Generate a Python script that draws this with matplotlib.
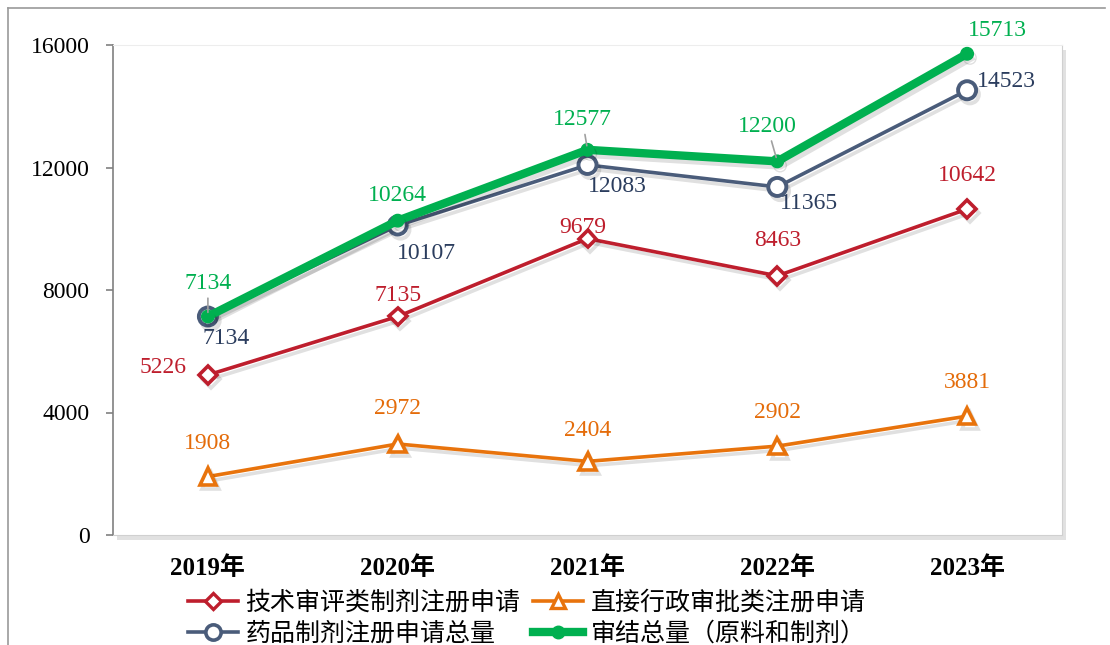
import matplotlib.pyplot as plt
import matplotlib.patheffects as pe
from matplotlib.lines import Line2D
from matplotlib.patches import Rectangle

plt.rcParams['font.family'] = ['Liberation Serif', 'Noto Sans CJK SC']

years = ['2019年', '2020年', '2021年', '2022年', '2023年']
tech_review = [5226, 7135, 9679, 8463, 10642]
direct_admin = [1908, 2972, 2404, 2902, 3881]
total_apps = [7134, 10107, 12083, 11365, 14523]
total_done = [7134, 10264, 12577, 12200, 15713]

names = ['技术审评类制剂注册申请', '直接行政审批类注册申请', '药品制剂注册申请总量', '审结总量（原料和制剂）']

# label offsets in pixels (dx, dy) from each point
off_red = [(-45, 7), (0, 21), (-5, 11), (0, 35), (0, 34)]
off_orange = [(0, 33), (0, 35), (0, 31), (0, 34), (0, 34)]
off_blue = [(18, -22), (29, -28), (30, -22), (32, -17), (39, 9)]
off_green = [(0, 33), (0, 25), (-5, 30), (-10, 35), (30, 23)]
leader_green = [True, False, True, True, False]

fig = plt.figure(figsize=(11.1, 6.45), dpi=100)
ax = fig.add_axes([113 / 1110, 1 - 535 / 645, 949 / 1110, 490 / 645])

# outer frame (left + top)
fig.add_artist(Line2D([8 / 1110, 8 / 1110], [0, 1 - 8 / 645], color='#9A9A9A', lw=1.2))
fig.add_artist(Line2D([8 / 1110, 1105 / 1110], [1 - 8 / 645, 1 - 8 / 645], color='#9A9A9A', lw=1.2))

# plot area shadow
fig.add_artist(Rectangle((117 / 1110, 1 - 540 / 645), 949 / 1110, 490 / 645,
                         facecolor='#C4C4C4', edgecolor='none', alpha=0.5, zorder=0))

x = list(range(len(years)))
shadow = [pe.SimpleLineShadow(offset=(2, -3), alpha=0.12), pe.Normal()]

red = '#BE1E2D'
orange = '#E8730C'
blue = '#4A5C7A'
blue_txt = '#2B3D5E'
green = '#00B050'

ax.plot(x, tech_review, color=red, lw=2.6, marker='D', ms=9, mfc='white', mec=red, mew=2.6,
        path_effects=shadow, zorder=3)
ax.plot(x, direct_admin, color=orange, lw=2.6, marker='^', ms=12, mfc='white', mec=orange, mew=2.6,
        path_effects=shadow, zorder=3)
ax.plot(x, total_apps, color=blue, lw=2.6, marker='o', ms=13, mfc='white', mec=blue, mew=2.8,
        path_effects=shadow, zorder=4)
ax.plot(x, total_done, color=green, lw=6, marker='o', ms=9, mfc=green, mec=green,
        path_effects=shadow, zorder=5)


def add_labels(vals, offs, color, leaders=None):
    for i, (v, o) in enumerate(zip(vals, offs)):
        kw = {}
        if leaders is not None and leaders[i]:
            kw['arrowprops'] = dict(arrowstyle='-', color='#A0A0A0', lw=1.2, shrinkA=1, shrinkB=3)
        ax.annotate(str(v), (x[i], v), xytext=o, textcoords='offset pixels',
                    ha='center', va='center', fontsize=17, color=color, zorder=6, **kw)


add_labels(tech_review, off_red, red)
add_labels(direct_admin, off_orange, '#E46C0A')
add_labels(total_apps, off_blue, blue_txt)
add_labels(total_done, off_green, green, leader_green)

ax.set_xlim(-0.5, 4.5)
ax.set_ylim(0, 16000)
ax.set_yticks([0, 4000, 8000, 12000, 16000])
ax.set_xticks(x)
ax.set_xticklabels(years, fontsize=18, fontweight='bold')
ax.tick_params(axis='x', length=0, pad=15)
ax.tick_params(axis='y', labelsize=17, length=5, width=1.2, color='#808080', pad=12)
ax.spines['left'].set_color('#808080')
ax.spines['left'].set_linewidth(1.2)
ax.spines['top'].set_color('#EDEDED')
ax.spines['right'].set_color('#D0D0D0')
ax.spines['bottom'].set_color('#D0D0D0')
ax.set_facecolor('white')
ax.set_zorder(1)

h_red = Line2D([], [], color=red, lw=2.6, marker='D', ms=8, mfc='white', mec=red, mew=2.4)
h_orange = Line2D([], [], color=orange, lw=2.6, marker='^', ms=10, mfc='white', mec=orange, mew=2.4)
h_blue = Line2D([], [], color=blue, lw=2.6, marker='o', ms=11, mfc='white', mec=blue, mew=2.6)
h_green = Line2D([], [], color=green, lw=6, marker='o', ms=9, mfc=green, mec=green)
# ncol=2 fills by column, so order is red, blue | orange, green
fig.legend([h_red, h_blue, h_orange, h_green], [names[0], names[2], names[1], names[3]],
           loc='upper left', bbox_to_anchor=(188 / 1110, 1 - 591 / 645),
           ncol=2, frameon=False, fontsize=18, handlelength=2.0, handletextpad=0.3,
           columnspacing=0.5, labelspacing=0.3, borderpad=0, borderaxespad=0)

fig.savefig('out.png', dpi=100)
